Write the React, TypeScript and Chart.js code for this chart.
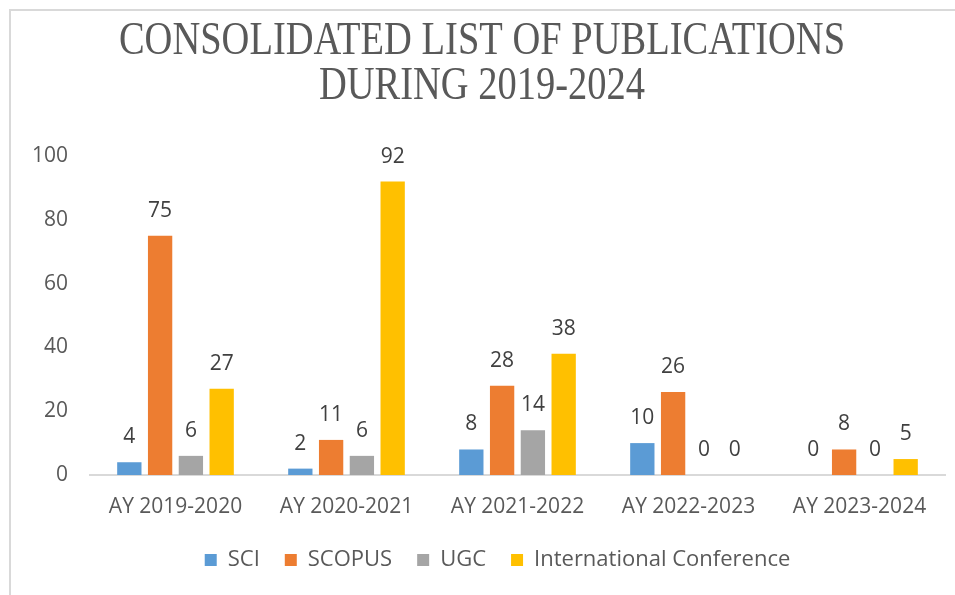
import React, { useEffect, useRef } from "react";
import { Chart, registerables } from "chart.js";

Chart.register(...registerables);

const titleLines = ["CONSOLIDATED LIST OF PUBLICATIONS", "DURING 2019-2024"];
const categories = ["AY 2019-2020", "AY 2020-2021", "AY 2021-2022", "AY 2022-2023", "AY 2023-2024"];
const sciValues = [4, 2, 8, 10, 0];
const scopusValues = [75, 11, 28, 26, 8];
const ugcValues = [6, 6, 14, 0, 0];
const confValues = [27, 92, 38, 0, 5];
const seriesNames = ["SCI", "SCOPUS", "UGC", "International Conference"];
const seriesColors = ["#5B9BD5", "#ED7D31", "#A5A5A5", "#FFC000"];
const yTicks = [0, 20, 40, 60, 80, 100];

const FONT = "'Open Sans', 'Noto Sans', sans-serif";

const titlePlugin = {
  id: "stretchedTitle",
  afterDraw(chart: any) {
    const ctx = chart.ctx;
    ctx.save();
    ctx.fillStyle = "#595959";
    ctx.font = "38.5px 'Liberation Serif', 'Times New Roman', serif";
    ctx.textAlign = "center";
    ctx.textBaseline = "middle";
    const cx = 482;
    const ys = [42, 87];
    titleLines.forEach((line, i) => {
      ctx.save();
      ctx.translate(cx, ys[i]);
      ctx.scale(1, 1.18);
      ctx.fillText(line, 0, 0);
      ctx.restore();
    });
    ctx.restore();
  },
};

const legendShiftPlugin = {
  id: "legendShift",
  afterLayout(chart: any) {
    const lg = chart.legend;
    if (lg) {
      lg.left += 25;
      lg.right += 25;
    }
  },
};

const valueLabelPlugin = {
  id: "valueLabels",
  afterDatasetsDraw(chart: any) {
    const ctx = chart.ctx;
    ctx.save();
    ctx.fillStyle = "#404040";
    ctx.font = "21px " + FONT;
    ctx.textAlign = "center";
    ctx.textBaseline = "alphabetic";
    chart.data.datasets.forEach((ds: any, di: number) => {
      const meta = chart.getDatasetMeta(di);
      meta.data.forEach((el: any, i: number) => {
        const v = ds.data[i];
        ctx.fillText(String(v), el.x, el.y - 19);
      });
    });
    ctx.restore();
  },
};

export default function App() {
  const canvasRef = useRef<HTMLCanvasElement | null>(null);

  useEffect(() => {
    if (!canvasRef.current) return;
    const allSeries = [sciValues, scopusValues, ugcValues, confValues];
    const chart = new Chart(canvasRef.current, {
      type: "bar",
      data: {
        labels: categories,
        datasets: allSeries.map((vals, i) => ({
          label: seriesNames[i],
          data: vals,
          backgroundColor: seriesColors[i],
          borderWidth: 0,
          categoryPercentage: 0.72,
          barPercentage: 0.79,
        })),
      },
      plugins: [titlePlugin, legendShiftPlugin, valueLabelPlugin],
      options: {
        animation: false,
        responsive: false,
        maintainAspectRatio: false,
        layout: { padding: { top: 156, left: 0, right: 10, bottom: 14 } },
        plugins: {
          title: { display: false },
          tooltip: { enabled: false },
          legend: {
            position: "bottom",
            labels: {
              boxWidth: 12,
              boxHeight: 12,
              padding: 25,
              color: "#595959",
              font: { family: FONT, size: 22 },
            },
          },
        },
        scales: {
          x: {
            grid: { display: false, drawTicks: false },
            border: { display: true, color: "#D9D9D9", width: 2 },
            afterFit(scale: any) {
              scale.height = 49;
            },
            ticks: {
              color: "#595959",
              font: { family: FONT, size: 21 },
              padding: 19,
              maxRotation: 0,
            },
          },
          y: {
            min: 0,
            max: 100,
            afterBuildTicks(scale: any) {
              scale.ticks = yTicks.map((v) => ({ value: v }));
            },
            afterFit(scale: any) {
              scale.width = 90;
            },
            grid: { display: false, drawTicks: false },
            border: { display: false },
            ticks: {
              color: "#595959",
              font: { family: FONT, size: 21 },
              padding: 22,
            },
          },
        },
      },
    });
    return () => chart.destroy();
  }, []);

  return (
    <div
      style={{
        position: "fixed",
        left: 0,
        top: 0,
        width: 955,
        height: 595,
        background: "#ffffff",
      }}
    >
      <div
        style={{
          position: "absolute",
          left: 9,
          top: 9,
          right: 0,
          bottom: 0,
          borderLeft: "2px solid #D9D9D9",
          borderTop: "2px solid #D9D9D9",
        }}
      />
      <canvas
        ref={canvasRef}
        width={955}
        height={595}
        style={{ position: "absolute", left: 0, top: 0, width: 955, height: 595 }}
      />
    </div>
  );
}
